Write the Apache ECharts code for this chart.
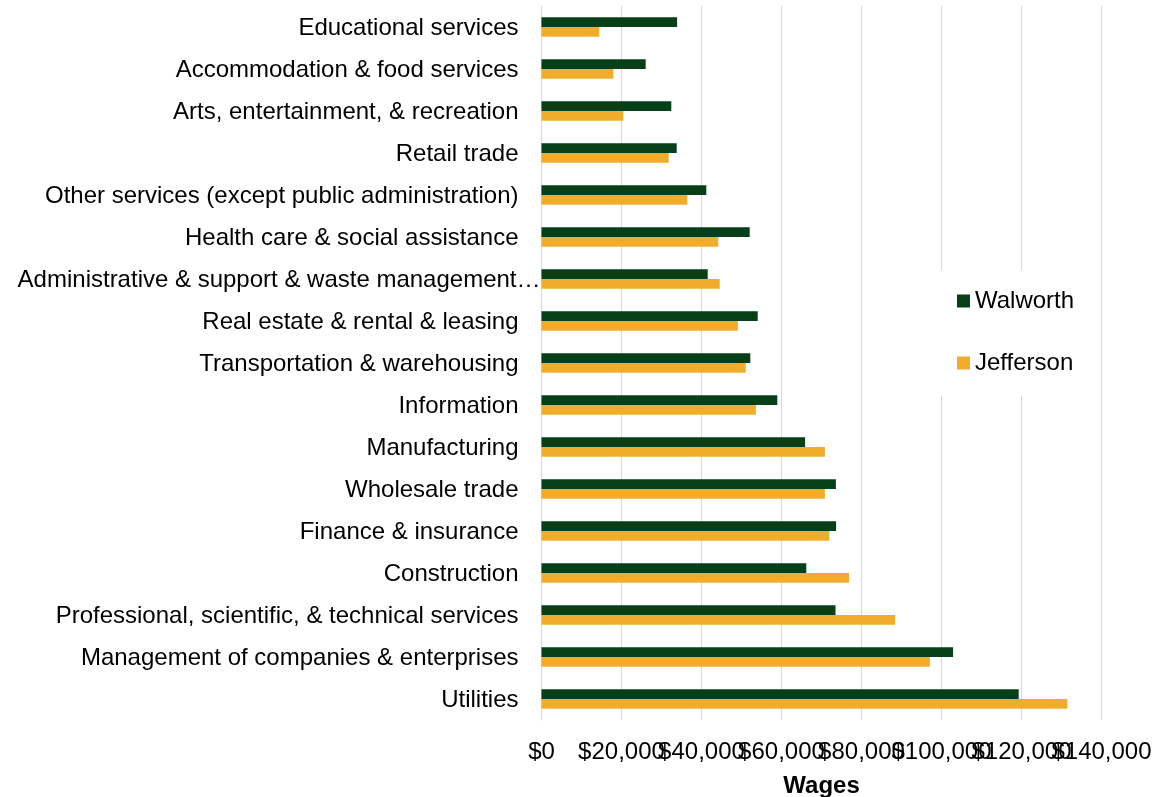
<!DOCTYPE html>
<html>
<head>
<meta charset="utf-8">
<script src="https://cdn.jsdelivr.net/npm/echarts@6/dist/echarts.min.js"></script>
<style>
  html, body { margin: 0; padding: 0; background: #ffffff; }
  #chart { width: 1173px; height: 797px; }
</style>
</head>
<body>
<div id="chart"></div>
<script>
const categories = [
  "Educational services",
  "Accommodation & food services",
  "Arts, entertainment, & recreation",
  "Retail trade",
  "Other services (except public administration)",
  "Health care & social assistance",
  "Administrative & support & waste management\u2026",
  "Real estate & rental & leasing",
  "Transportation & warehousing",
  "Information",
  "Manufacturing",
  "Wholesale trade",
  "Finance & insurance",
  "Construction",
  "Professional, scientific, & technical services",
  "Management of companies & enterprises",
  "Utilities"
];
const walworth = [33900, 26050, 32450, 33800, 41200, 52050, 41550, 54050, 52200, 58950, 65900, 73600, 73650, 66200, 73500, 102900, 119300];
const jefferson = [14450, 17950, 20450, 31800, 36450, 44200, 44550, 49100, 51050, 53600, 70850, 70850, 71950, 76900, 88400, 97100, 131450];
const xTicks = [0, 20000, 40000, 60000, 80000, 100000, 120000, 140000];
const seriesNames = ["Walworth", "Jefferson"];
const axisTitle = "Wages";

const FONT = '"Liberation Sans", Arial, sans-serif';
const XMIN = xTicks[0], XMAX = xTicks[xTicks.length - 1], XINT = xTicks[1] - xTicks[0];
const money = v => '$' + v.toLocaleString('en-US');
const chart = echarts.init(document.getElementById('chart'), null, { renderer: 'canvas' });

const baseX = {
  type: 'value', position: 'bottom', offset: 0,
  min: XMIN, max: XMAX, interval: XINT,
  axisLine: { show: false },
  axisTick: { show: false }
};

chart.setOption({
  animation: false,
  backgroundColor: '#ffffff',
  grid: { left: 541.5, right: 71.5, top: 6, bottom: 77, containLabel: false, outerBoundsMode: 'none' },
  legend: {
    orient: 'vertical',
    left: 935,
    top: 270,
    padding: [19, 20, 21, 22],
    backgroundColor: '#ffffff',
    itemWidth: 13,
    itemHeight: 13,
    itemGap: 38,
    icon: 'rect',
    textStyle: { fontFamily: FONT, fontSize: 24, color: '#000000', lineHeight: 24 },
    data: seriesNames
  },
  xAxis: [
    Object.assign({}, baseX, {
      name: axisTitle,
      nameLocation: 'middle',
      nameGap: 54,
      nameTextStyle: { fontFamily: FONT, fontSize: 24, fontWeight: 'bold', color: '#000000' },
      axisLabel: {
        fontFamily: FONT, fontSize: 24, color: '#000000', margin: 20,
        showMinLabel: true, showMaxLabel: false, hideOverlap: false,
        formatter: money
      },
      splitLine: { show: true, lineStyle: { color: '#d9d9d9', width: 1 } }
    }),
    Object.assign({}, baseX, {
      axisLabel: {
        fontFamily: FONT, fontSize: 24, color: '#000000', margin: 20,
        showMinLabel: false, showMaxLabel: true, hideOverlap: false,
        formatter: v => (v === XMAX ? money(v) : '')
      },
      splitLine: { show: false }
    })
  ],
  yAxis: {
    type: 'category',
    inverse: true,
    data: categories,
    axisLine: { show: true, lineStyle: { color: '#d9d9d9', width: 1 } },
    axisTick: { show: false },
    axisLabel: {
      fontFamily: FONT, fontSize: 24, color: '#000000', margin: 23,
      padding: [2, 0, 0, 0],
      formatter: v => v.indexOf('\u2026') >= 0 ? '{t|' + v + '}' : v,
      rich: { t: { fontFamily: FONT, fontSize: 24, color: '#000000', padding: [0, -22, 0, 0] } }
    }
  },
  series: [
    {
      name: seriesNames[0], type: 'bar', data: walworth, xAxisIndex: 0,
      barWidth: 9.8, barGap: '0%',
      itemStyle: { color: '#063f18' }
    },
    {
      name: seriesNames[1], type: 'bar', data: jefferson, xAxisIndex: 0,
      barWidth: 9.8, barGap: '0%',
      itemStyle: { color: '#f2ac2c' }
    }
  ]
});
</script>
</body>
</html>
